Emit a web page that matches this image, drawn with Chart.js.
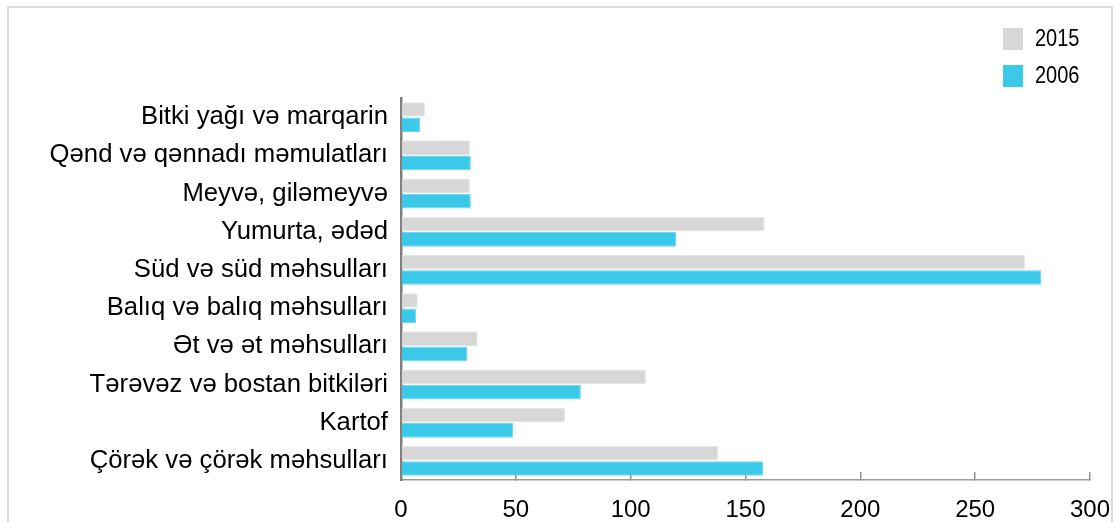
<!DOCTYPE html>
<html>
<head>
<meta charset="utf-8">
<script src="https://cdn.jsdelivr.net/npm/chart.js@4.4.1/dist/chart.umd.min.js"></script>
<style>
  html, body { margin: 0; padding: 0; background: #fff; }
  #wrap { position: relative; width: 1117px; height: 522px; overflow: hidden; }
  #frame { position: absolute; left: 7px; top: 6px; width: 1106px; height: 600px;
           border: 2px solid #dcdcdc; box-sizing: border-box; pointer-events: none; }
  canvas { position: absolute; left: 0; top: 0; }
</style>
</head>
<body>
<div id="wrap">
  <canvas id="c" width="1117" height="522"></canvas>
  <div id="frame"></div>
</div>
<script>
const categories = [
  "Bitki yağı və marqarin",
  "Qənd və qənnadı məmulatları",
  "Meyvə, giləmeyvə",
  "Yumurta, ədəd",
  "Süd və süd məhsulları",
  "Balıq və balıq məhsulları",
  "Ət və ət məhsulları",
  "Tərəvəz və bostan bitkiləri",
  "Kartof",
  "Çörək və çörək məhsulları"
];
const seriesNames = ["2015", "2006"];
const values2015 = [10.4, 30.0, 30.0, 158.3, 271.7, 7.3, 33.4, 106.6, 71.5, 138.2];
const values2006 = [8.4, 30.4, 30.4, 119.8, 278.7, 6.6, 28.8, 78.3, 48.8, 157.7];
const xTicks = [0, 50, 100, 150, 200, 250, 300];

const FONT = "'Liberation Sans', Arial, sans-serif";

const legendPlugin = {
  id: 'sideLegend',
  afterDraw(chart) {
    const ctx = chart.ctx;
    chart.data.datasets.forEach((ds, i) => {
      const yc = 39 + i * 37;
      ctx.save();
      ctx.fillStyle = ds.backgroundColor;
      ctx.fillRect(1003, yc - 11, 20, 22);
      ctx.translate(1035, yc + 1);
      ctx.scale(1, 1.17);
      ctx.font = "20px " + FONT;
      ctx.textBaseline = 'middle';
      ctx.textAlign = 'left';
      ctx.fillStyle = '#000';
      ctx.fillText(ds.label, 0, 0);
      ctx.restore();
    });
  }
};

new Chart(document.getElementById('c'), {
  type: 'bar',
  data: {
    labels: categories,
    datasets: [
      { label: seriesNames[0], data: values2015, backgroundColor: '#d7d7d7',
        borderColor: '#e6e6e6', borderWidth: 1,
        categoryPercentage: 0.8, barPercentage: 0.96 },
      { label: seriesNames[1], data: values2006, backgroundColor: '#3bc9e9',
        borderColor: '#6ad6ef', borderWidth: 1,
        categoryPercentage: 0.8, barPercentage: 0.96 }
    ]
  },
  options: {
    indexAxis: 'y',
    responsive: false,
    animation: false,
    devicePixelRatio: 1,
    layout: { padding: { top: 98, right: 27, left: 0, bottom: 0 } },
    plugins: {
      legend: { display: false },
      tooltip: { enabled: false }
    },
    scales: {
      x: {
        min: 0, max: 300,
        afterBuildTicks: (s) => { s.ticks = xTicks.map(v => ({ value: v })); },
        afterFit: (s) => { s.height = 42; s.paddingRight = 0; s.paddingLeft = 0; },
        grid: { drawOnChartArea: false, drawTicks: true, tickLength: -8, color: '#8f8f8f', lineWidth: 1.5 },
        border: { display: true, color: '#9a9a9a', width: 1.5 },
        ticks: { font: { family: FONT, size: 24 }, color: '#000', padding: 24 }
      },
      y: {
        afterFit: (s) => { s.width = 401; s.paddingTop = 0; s.paddingBottom = 0; },
        grid: { display: false, drawTicks: false },
        border: { display: true, color: '#7f7f7f', width: 2.5 },
        ticks: { font: { family: FONT, size: 25.7 }, color: '#000', padding: 13 }
      }
    }
  },
  plugins: [legendPlugin]
});
</script>
</body>
</html>
